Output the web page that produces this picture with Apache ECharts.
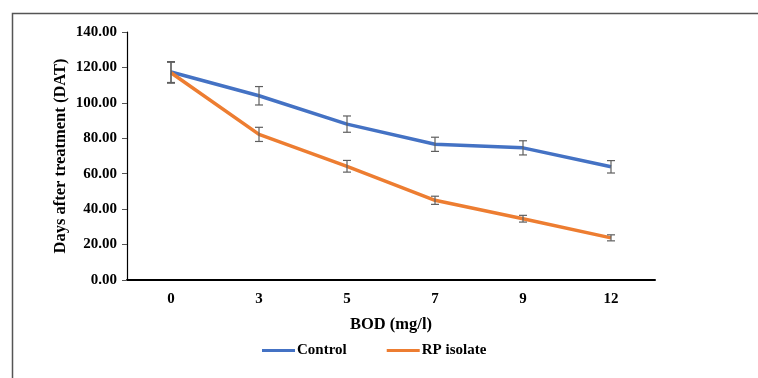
<!DOCTYPE html>
<html>
<head>
<meta charset="utf-8">
<script src="https://cdn.jsdelivr.net/npm/echarts@6/dist/echarts.min.js"></script>
<style>html,body{margin:0;padding:0;background:#fff;}#c{width:758px;height:378px;}</style>
</head>
<body>
<div id="c"></div>
<script>
var categories = ['0', '3', '5', '7', '9', '12'];
var controlValues = [117.4, 104.0, 88.0, 76.6, 74.6, 63.9];
var controlErrors = [5.9, 5.2, 4.6, 4.0, 4.0, 3.5];
var rpValues = [117.0, 82.2, 64.2, 45.0, 34.6, 23.8];
var rpErrors = [5.9, 4.0, 3.3, 2.3, 1.9, 1.7];
var yTicks = [0, 20, 40, 60, 80, 100, 120, 140];

var FONT = '"Liberation Serif", "Times New Roman", serif';

function errData(vals, errs) {
  return vals.map(function (v, i) { return [i, v - errs[i], v + errs[i]]; });
}
function errRender(params, api) {
  var x = api.value(0);
  var lo = api.coord([x, api.value(1)]);
  var hi = api.coord([x, api.value(2)]);
  var hw = 4;
  var st = { stroke: '#5f5f5f', lineWidth: 1.2 };
  return {
    type: 'group',
    children: [
      { type: 'line', shape: { x1: lo[0], y1: lo[1], x2: hi[0], y2: hi[1] }, style: st },
      { type: 'line', shape: { x1: lo[0] - hw, y1: lo[1], x2: lo[0] + hw, y2: lo[1] }, style: st },
      { type: 'line', shape: { x1: hi[0] - hw, y1: hi[1], x2: hi[0] + hw, y2: hi[1] }, style: st }
    ]
  };
}

var chart = echarts.init(document.getElementById('c'));
chart.setOption({
  animation: false,
  backgroundColor: '#fff',
  graphic: [{
    type: 'rect', shape: { x: 12.5, y: 13.5, width: 800, height: 400 },
    style: { fill: null, stroke: '#555', lineWidth: 1.5 }, silent: true
  }],
  grid: { left: 127, right: 103, top: 32, bottom: 98 },
  legend: {
    bottom: 15, left: 257,
    itemWidth: 33, itemHeight: 3, itemGap: 40,
    icon: 'rect',
    textStyle: { fontFamily: FONT, fontWeight: 'bold', fontSize: 15, color: '#000', padding: [0, 0, 0, -3] },
    data: ['Control', 'RP isolate']
  },
  xAxis: {
    type: 'category', data: categories, boundaryGap: true,
    name: 'BOD (mg/l)', nameLocation: 'middle', nameGap: 36, nameMoveOverlap: false,
    nameTextStyle: { fontFamily: FONT, fontWeight: 'bold', fontSize: 16.5, color: '#000' },
    axisLine: { lineStyle: { color: '#000', width: 2 } },
    axisTick: { show: false },
    axisLabel: { fontFamily: FONT, fontWeight: 'bold', fontSize: 15, color: '#000', margin: 12 }
  },
  yAxis: {
    type: 'value', min: 0, max: 140, interval: 20,
    name: 'Days after treatment (DAT)', nameLocation: 'middle', nameGap: 58, nameMoveOverlap: false,
    nameTextStyle: { fontFamily: FONT, fontWeight: 'bold', fontSize: 16.5, color: '#000' },
    axisLine: { show: true, lineStyle: { color: '#000', width: 1.2 } },
    axisTick: { show: true, length: 5, lineStyle: { color: '#555' } },
    splitLine: { show: false },
    axisLabel: {
      fontFamily: FONT, fontWeight: 'bold', fontSize: 15, color: '#000', margin: 10,
      formatter: function (v) { return yTicks.indexOf(v) >= 0 ? v.toFixed(2) : ''; }
    }
  },
  series: [
    { name: 'Control', type: 'line', data: controlValues, symbol: 'none',
      lineStyle: { color: '#4472C4', width: 3.5 }, itemStyle: { color: '#4472C4' }, z: 3 },
    { name: 'RP isolate', type: 'line', data: rpValues, symbol: 'none',
      lineStyle: { color: '#ED7D31', width: 3.5 }, itemStyle: { color: '#ED7D31' }, z: 3 },
    { type: 'custom', renderItem: errRender, data: errData(controlValues, controlErrors), z: 5, encode: { x: 0, y: [1, 2] } },
    { type: 'custom', renderItem: errRender, data: errData(rpValues, rpErrors), z: 5, encode: { x: 0, y: [1, 2] } }
  ]
});
</script>
</body>
</html>
